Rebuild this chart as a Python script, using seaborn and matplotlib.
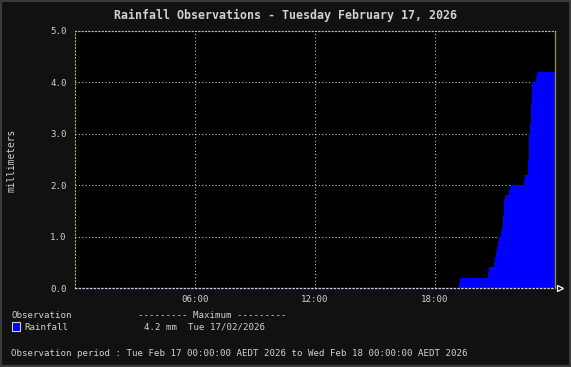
import matplotlib
matplotlib.use("Agg")
import matplotlib.pyplot as plt
import seaborn as sns
import numpy as np
from matplotlib.patches import Rectangle

# ---- data ----
obs_times = ["00:00", "19:12", "19:15", "20:39", "20:42", "20:57", "21:00", "21:03", "21:06",
             "21:09", "21:12", "21:18", "21:21", "21:24", "21:27", "21:30", "21:42",
             "21:45", "22:27", "22:30", "22:39", "22:42", "22:45", "22:48", "22:51",
             "23:03", "23:06", "24:00"]
rain_mm = [0.0, 0.1, 0.2, 0.3, 0.4, 0.5, 0.6, 0.7, 0.8, 0.9, 1.0, 1.1, 1.2, 1.4, 1.7, 1.8, 1.9,
           2.0, 2.1, 2.2, 2.5, 3.0, 3.2, 3.6, 4.0, 4.1, 4.2, 4.2]
xtick_labels = ["06:00", "12:00", "18:00"]
xtick_hours = [6, 12, 18]
ytick_vals = [0.0, 1.0, 2.0, 3.0, 4.0, 5.0]

title = "Rainfall Observations - Tuesday February 17, 2026"
ylabel = "millimeters"
legend_head = "Observation"
max_head = "--------- Maximum ---------"
series_name = "Rainfall"
max_text = "4.2 mm  Tue 17/02/2026"
period_text = "Observation period : Tue Feb 17 00:00:00 AEDT 2026 to Wed Feb 18 00:00:00 AEDT 2026"

hours = np.array([int(t[:2]) + int(t[3:]) / 60 for t in obs_times])
rain = np.array(rain_mm)

# ---- style ----
sns.set_style("dark")
plt.rcParams['font.family'] = ['DejaVu Sans Mono', 'DejaVu Sans']

W, H = 571, 367
BG = "#111111"
TXT = "#d0d0d0"
GRID = "#a8c8a0"
BLUE = "#0000ff"
FS = 6.57

fig = plt.figure(figsize=(W / 100, H / 100), dpi=100, facecolor=BG)
L, R, T, B = 75, 555, 31, 288
ax = fig.add_axes([L / W, 1 - B / H, (R - L) / W, (B - T) / H])
ax.set_facecolor("black")

sns.lineplot(x=hours, y=rain, drawstyle="steps-post", color=BLUE, linewidth=0.8, ax=ax)
ax.fill_between(hours, rain, step="post", color=BLUE, linewidth=0)

ax.set_xlim(0, 24)
ax.set_ylim(0, 5)
ax.set_xticks(xtick_hours)
ax.set_xticklabels(xtick_labels)
ax.set_yticks(ytick_vals)
ax.set_yticklabels([f"{v:.1f}" for v in ytick_vals])
ax.tick_params(axis="x", length=0, pad=5, labelsize=FS, colors=TXT)
ax.tick_params(axis="y", length=3, width=0.8, color="#90c070", pad=3, labelsize=FS, labelcolor=TXT)
ax.grid(True, color=GRID, linestyle=(0, (1, 2)), linewidth=0.8)
ax.set_xlabel("")
ax.set_ylabel("")

for s in ax.spines.values():
    s.set_visible(True)
ax.spines["left"].set_color("#90c070")
ax.spines["left"].set_linestyle((0, (1, 2)))
ax.spines["left"].set_linewidth(0.8)
ax.spines["top"].set_color(GRID)
ax.spines["top"].set_linestyle((0, (1, 2)))
ax.spines["top"].set_linewidth(0.8)
ax.spines["right"].set_color("#8a8a3a")
ax.spines["right"].set_linewidth(1.0)
ax.spines["bottom"].set_color("#d0d0f0")
ax.spines["bottom"].set_linestyle((0, (1, 2)))
ax.spines["bottom"].set_linewidth(0.9)
ax.plot([1.011], [0], marker=">", transform=ax.transAxes, clip_on=False,
        mfc="none", mec="white", ms=5, mew=0.9)


def px(x, y):
    return x / W, 1 - y / H


fig.text(*px(286, 15), title, ha="center", va="center", color=TXT, fontsize=8.4, fontweight="bold")
fig.text(*px(12, 160), ylabel, ha="center", va="center", rotation=90, color=TXT, fontsize=6.9)
fig.text(*px(11, 315), legend_head, ha="left", va="center", color=TXT, fontsize=FS)
fig.text(*px(138, 315), max_head, ha="left", va="center", color=TXT, fontsize=FS)
fig.patches.append(Rectangle(px(12, 331), 8 / W, 9 / H, transform=fig.transFigure,
                             facecolor=BLUE, edgecolor="#d0d0d0", linewidth=0.8))
fig.text(*px(24, 327), series_name, ha="left", va="center", color=TXT, fontsize=FS)
fig.text(*px(144, 327), max_text, ha="left", va="center", color=TXT, fontsize=FS)
fig.text(*px(11, 354), period_text, ha="left", va="center", color=TXT, fontsize=FS)

fig.patches.append(Rectangle((0, 0), 1, 1, transform=fig.transFigure, facecolor="none",
                             edgecolor="#3a3a3a", linewidth=3))

fig.savefig("out.png", dpi=100, facecolor=BG)
